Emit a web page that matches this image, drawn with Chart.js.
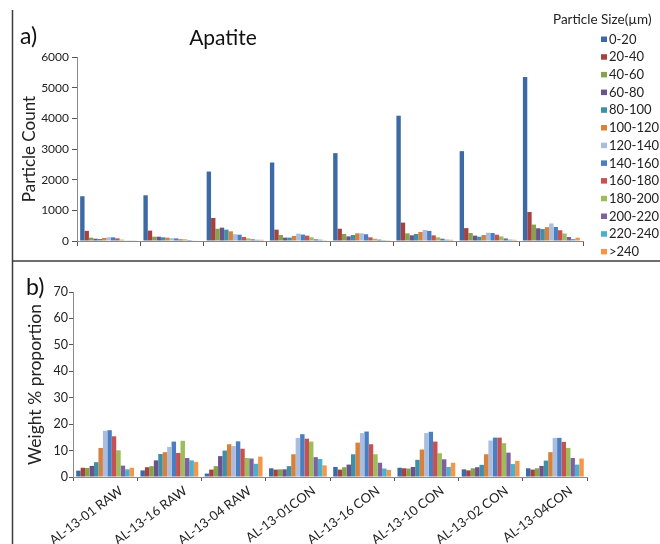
<!DOCTYPE html>
<html>
<head>
<meta charset="utf-8">
<script src="https://cdn.jsdelivr.net/npm/chart.js@4"></script>
<style>
  html, body { margin: 0; padding: 0; background: #ffffff; }
  #wrap { position: relative; width: 660px; height: 544px; overflow: hidden; }
  canvas { position: absolute; left: 0; }
  #countChart { top: 0; }
  #weightChart { top: 262px; }
</style>
</head>
<body>
<div id="wrap">
  <canvas id="countChart" width="660" height="262"></canvas>
  <canvas id="weightChart" width="660" height="282"></canvas>
</div>
<script>
// Samples on the x axis
const samples = ['AL-13-01 RAW', 'AL-13-16 RAW', 'AL-13-04 RAW', 'AL-13-01CON',
                 'AL-13-16 CON', 'AL-13-10 CON', 'AL-13-02 CON', 'AL-13-04CON'];

// Particle size classes (µm), one series each
const sizeBins = ['0-20', '20-40', '40-60', '60-80', '80-100', '100-120', '120-140',
                  '140-160', '160-180', '180-200', '200-220', '220-240', '>240'];

const binColors = ['#3d6aa5', '#a8413e', '#84a34c', '#6b528d', '#3c90a8', '#d8813b', '#a9bde0',
                   '#4a7ec0', '#c9504e', '#9bbd5a', '#7d61a2', '#4bb0cc', '#f79646'];

// a) Apatite particle counts per sample, in size-class order
const countsAL1301Raw = [1460, 330, 110, 75, 65, 100, 120, 120, 87, 45, 20, 10, 10];
const countsAL1316Raw = [1490, 338, 140, 140, 120, 110, 90, 85, 55, 55, 30, 20, 15];
const countsAL1304Raw = [2265, 750, 400, 435, 370, 315, 220, 205, 130, 85, 55, 40, 40];
const countsAL1301Con = [2560, 370, 195, 110, 110, 165, 240, 210, 175, 120, 55, 45, 25];
const countsAL1316Con = [2865, 400, 230, 150, 195, 250, 250, 220, 120, 75, 45, 30, 25];
const countsAL1310Con = [4085, 600, 250, 185, 230, 295, 360, 330, 185, 120, 75, 45, 40];
const countsAL1302Con = [2930, 420, 260, 175, 140, 195, 270, 260, 205, 150, 85, 45, 40];
const countsAL1304Con = [5350, 945, 535, 415, 390, 452, 572, 456, 350, 245, 130, 65, 110];

// b) Weight % per sample, in size-class order
const weightAL1301Raw = [2.4, 3.5, 3.4, 4.2, 5.6, 11.0, 17.5, 17.7, 15.4, 10.1, 4.3, 2.9, 3.5];
const weightAL1316Raw = [2.5, 3.7, 4.1, 6.3, 8.7, 9.4, 11.4, 13.4, 9.1, 13.7, 7.2, 6.3, 5.7];
const weightAL1304Raw = [1.3, 2.8, 4.1, 7.9, 10.0, 12.4, 11.7, 13.5, 10.7, 7.2, 7.0, 5.0, 7.7];
const weightAL1301Con = [3.3, 2.8, 2.9, 2.9, 4.1, 8.6, 14.8, 16.2, 14.5, 13.4, 7.5, 6.8, 4.4];
const weightAL1316Con = [3.8, 2.8, 3.7, 4.7, 8.6, 13.0, 16.6, 17.2, 12.4, 8.6, 5.4, 3.2, 2.7];
const weightAL1310Con = [3.5, 3.3, 3.2, 3.8, 6.5, 10.4, 16.6, 17.1, 13.4, 9.0, 6.7, 3.8, 5.4];
const weightAL1302Con = [2.9, 2.5, 3.3, 3.7, 4.6, 8.6, 13.8, 14.9, 14.9, 12.8, 9.2, 4.9, 6.1];
const weightAL1304Con = [3.3, 2.8, 3.3, 4.2, 6.2, 9.4, 14.8, 14.8, 13.3, 11.0, 7.2, 4.7, 7.0];

// Axis ticks
const countTicks = [0, 1000, 2000, 3000, 4000, 5000, 6000];
const weightTicks = [0, 10, 20, 30, 40, 50, 60, 70];

// Text
const panelA = 'a)';
const panelB = 'b)';
const mineralName = 'Apatite';
const countAxisTitle = 'Particle Count';
const weightAxisTitle = 'Weight % proportion';
const legendTitle = 'Particle Size(µm)';

const countRows = [countsAL1301Raw, countsAL1316Raw, countsAL1304Raw, countsAL1301Con,
                   countsAL1316Con, countsAL1310Con, countsAL1302Con, countsAL1304Con];
const weightRows = [weightAL1301Raw, weightAL1316Raw, weightAL1304Raw, weightAL1301Con,
                    weightAL1316Con, weightAL1310Con, weightAL1302Con, weightAL1304Con];

const FONT = 'Lato, "Liberation Sans", sans-serif';
const AXIS_GREY = '#8a8a8a';
const TEXT = '#222222';

function buildDatasets(rows) {
  return sizeBins.map((bin, i) => ({
    label: bin,
    data: rows.map(r => r[i]),
    backgroundColor: binColors[i],
    borderWidth: 0,
    categoryPercentage: 0.9,
    barPercentage: 1.0
  }));
}

function fixedTicks(values) {
  return function (scale) { scale.ticks = values.map(v => ({ value: v })); };
}

const plainNumber = v => String(v);

// Panel frame, panel letters, heading and the shared size legend
const countDecor = {
  id: 'countDecor',
  afterDraw(chart) {
    const ctx = chart.ctx;
    ctx.save();
    ctx.strokeStyle = '#3c3c3c';
    ctx.lineWidth = 1.5;
    ctx.beginPath(); ctx.moveTo(12.5, 10); ctx.lineTo(12.5, 262); ctx.stroke();
    ctx.beginPath(); ctx.moveTo(12, 261); ctx.lineTo(660, 261); ctx.stroke();

    ctx.fillStyle = '#111';
    ctx.textBaseline = 'alphabetic';
    ctx.textAlign = 'left';
    ctx.font = '23px ' + FONT;
    ctx.fillText(panelA, 20, 44);
    ctx.textAlign = 'center';
    ctx.font = '21px ' + FONT;
    ctx.fillText(mineralName, 223, 45);

    // legend
    ctx.textAlign = 'left';
    ctx.textBaseline = 'middle';
    ctx.fillStyle = TEXT;
    ctx.font = '13.5px ' + FONT;
    ctx.fillText(legendTitle, 553, 20);
    ctx.font = '13px ' + FONT;
    chart.data.datasets.forEach((ds, i) => {
      const y = 39 + i * 17.7;
      ctx.fillStyle = ds.backgroundColor;
      ctx.fillRect(601, y - 2.5, 6, 5.5);
      ctx.fillStyle = TEXT;
      ctx.fillText(ds.label, 609, y + 0.5);
    });
    ctx.restore();
  }
};

const weightDecor = {
  id: 'weightDecor',
  afterDraw(chart) {
    const ctx = chart.ctx;
    ctx.save();
    ctx.strokeStyle = '#3c3c3c';
    ctx.lineWidth = 1.5;
    ctx.beginPath(); ctx.moveTo(12.5, 0); ctx.lineTo(12.5, 282); ctx.stroke();
    ctx.fillStyle = '#111';
    ctx.textBaseline = 'alphabetic';
    ctx.textAlign = 'left';
    ctx.font = '23px ' + FONT;
    ctx.fillText(panelB, 26, 33);
    ctx.restore();
  }
};

Chart.defaults.font.family = FONT;
Chart.defaults.color = TEXT;

new Chart(document.getElementById('countChart'), {
  type: 'bar',
  data: { labels: samples, datasets: buildDatasets(countRows) },
  plugins: [countDecor],
  options: {
    responsive: false,
    animation: false,
    layout: { padding: { left: 0, right: 77, top: 57, bottom: 0 } },
    plugins: { legend: { display: false }, tooltip: { enabled: false } },
    scales: {
      x: {
        grid: { display: true, drawOnChartArea: false, drawTicks: true, tickLength: 5, color: '#555', offset: true },
        border: { display: true, color: AXIS_GREY, width: 1 },
        ticks: { display: false },
        afterFit(scale) { scale.height = 21; }
      },
      y: {
        min: 0, max: 6000,
        afterBuildTicks: fixedTicks(countTicks),
        grid: { display: true, drawOnChartArea: false, drawTicks: true, tickLength: 5, color: '#555' },
        border: { display: true, color: AXIS_GREY, width: 1 },
        ticks: { padding: 3, font: { size: 12 }, color: TEXT, callback: plainNumber },
        title: { display: true, text: countAxisTitle, font: { size: 17 }, color: TEXT, padding: { top: 19, bottom: 0 } },
        afterFit(scale) { scale.width = 77; }
      }
    }
  }
});

new Chart(document.getElementById('weightChart'), {
  type: 'bar',
  data: { labels: samples, datasets: buildDatasets(weightRows) },
  plugins: [weightDecor],
  options: {
    responsive: false,
    animation: false,
    layout: { padding: { left: 0, right: 73, top: 30, bottom: 0 } },
    plugins: { legend: { display: false }, tooltip: { enabled: false } },
    scales: {
      x: {
        grid: { display: true, drawOnChartArea: false, drawTicks: true, tickLength: 4, color: '#555', offset: true },
        border: { display: true, color: AXIS_GREY, width: 1 },
        ticks: { font: { size: 13 }, color: TEXT, minRotation: 37, maxRotation: 37, autoSkip: false, padding: 2, labelOffset: 16 },
        afterFit(scale) { scale.height = 67; }
      },
      y: {
        min: 0, max: 70,
        afterBuildTicks: fixedTicks(weightTicks),
        grid: { display: true, drawOnChartArea: false, drawTicks: true, tickLength: 4, color: '#555' },
        border: { display: true, color: AXIS_GREY, width: 1 },
        ticks: { padding: 1, font: { size: 12.5 }, color: TEXT, callback: plainNumber },
        title: { display: true, text: weightAxisTitle, font: { size: 17.5 }, color: TEXT, padding: { top: 25, bottom: 0 } },
        afterFit(scale) { scale.width = 73; }
      }
    }
  }
});
</script>
</body>
</html>
